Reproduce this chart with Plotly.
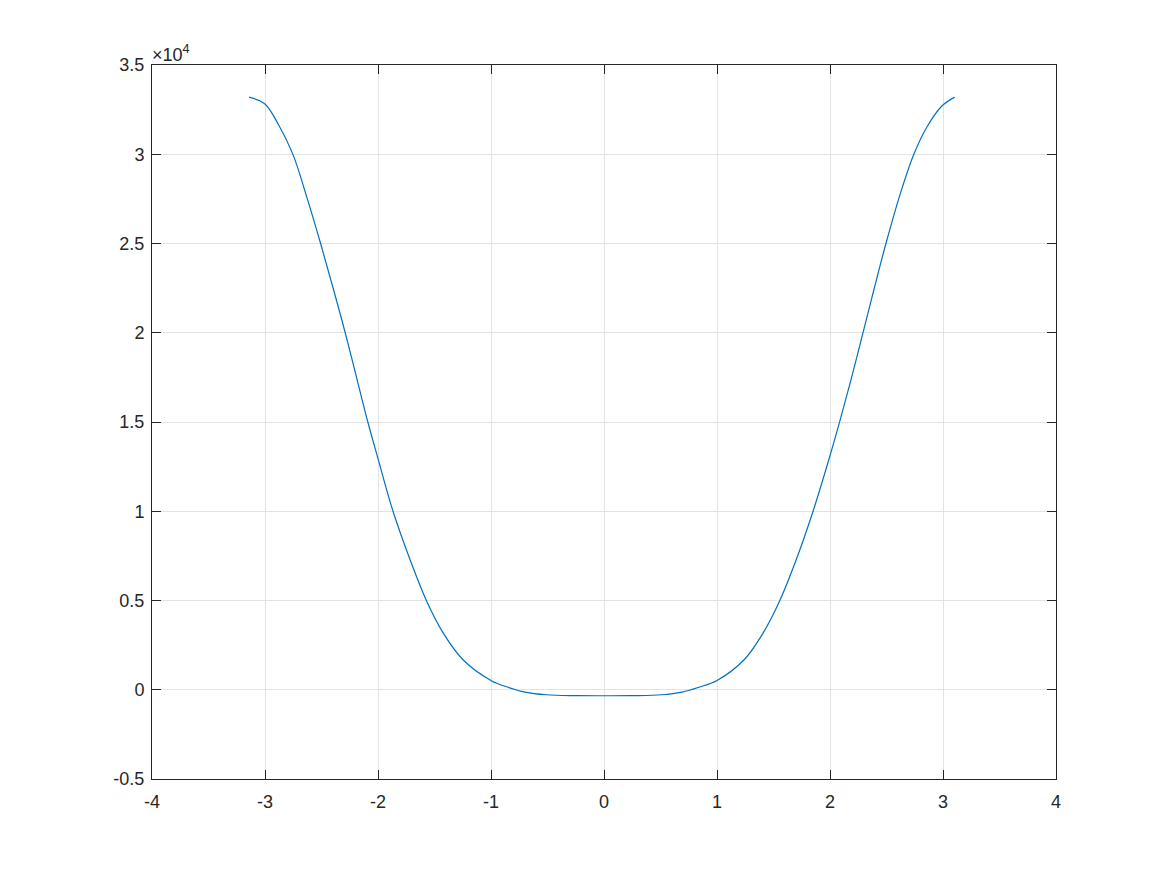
import plotly.graph_objects as go

# curve values (x, y)
x_vals = [-3.142, -3.003, -2.880, -2.752, -2.630, -2.508, -2.395, -2.290, -2.190, -2.090,
          -2.000, -1.867, -1.720, -1.572, -1.425, -1.248, -0.997, -0.850, -0.700, -0.510,
          -0.250, 0.0, 0.250, 0.510, 0.690, 0.840, 1.000, 1.240, 1.410, 1.556,
          1.705, 1.850, 1.990, 2.087, 2.185, 2.290, 2.390, 2.495, 2.625, 2.742,
          2.855, 2.990, 3.103]
y_vals = [33200, 32830, 31650, 29980, 27600, 25000, 22450, 20000, 17500, 15000,
          12950, 10000, 7350, 5000, 3200, 1680, 510, 140, -130, -280,
          -330, -337, -330, -280, -130, 140, 520, 1680, 3200, 5000,
          7350, 10000, 12900, 15050, 17350, 19950, 22450, 25000, 27850, 30000,
          31500, 32700, 33200]

x_ticks = [-4, -3, -2, -1, 0, 1, 2, 3, 4]
y_ticks = [-5000, 0, 5000, 10000, 15000, 20000, 25000, 30000, 35000]
y_tick_text = ["-0.5", "0", "0.5", "1", "1.5", "2", "2.5", "3", "3.5"]

FONT = "Liberation Sans, Arial, Helvetica, sans-serif"

fig = go.Figure()
fig.add_trace(go.Scatter(x=x_vals, y=y_vals, mode="lines",
                         line=dict(color="#0072BD", width=1.2, shape="spline", smoothing=1.0),
                         showlegend=False, hoverinfo="skip"))

axis_common = dict(showline=True, linecolor="#262626", linewidth=1, mirror="allticks",
                   ticks="inside", ticklen=9, tickwidth=1, tickcolor="#262626",
                   showgrid=True, gridcolor="#e3e3e3", gridwidth=1, zeroline=False,
                   tickfont=dict(family=FONT, size=18, color="#262626"))

fig.update_xaxes(range=[-4, 4], tickvals=x_ticks, ticktext=[str(v) for v in x_ticks],
                 ticklabelstandoff=6, **axis_common)
fig.update_yaxes(range=[-5000, 35000], tickvals=y_ticks, ticktext=y_tick_text,
                 ticklabelstandoff=3, **axis_common)

fig.add_annotation(text="×10<sup>4</sup>", xref="paper", yref="paper", x=0, y=1,
                   xanchor="left", yanchor="bottom", showarrow=False, xshift=-2, yshift=-2,
                   font=dict(family=FONT, size=18, color="#262626"))

fig.update_layout(width=1151, height=859, paper_bgcolor="white", plot_bgcolor="white",
                  margin=dict(l=144, r=103, t=57, b=88, autoexpand=False))

fig.write_html("out.html")
